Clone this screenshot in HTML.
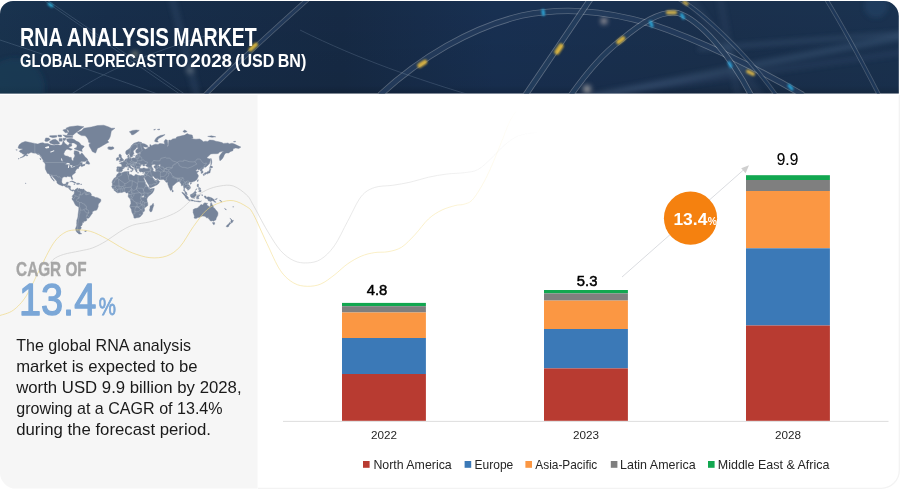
<!DOCTYPE html>
<html lang="en"><head><meta charset="utf-8"><title>RNA Analysis Market</title>
<style>
html,body{margin:0;padding:0;background:#fff;}
body{width:900px;height:490px;overflow:hidden;position:relative;font-family:"Liberation Sans",sans-serif;}
svg{position:absolute;left:0;top:0;display:block}
text{font-family:"Liberation Sans",sans-serif;}
</style></head><body>
<svg width="900" height="490" viewBox="0 0 900 490">
<defs>
<linearGradient id="bg" x1="0" y1="0" x2="1" y2="0">
<stop offset="0" stop-color="#19334f"/><stop offset="0.12" stop-color="#172e4b"/><stop offset="0.38" stop-color="#162a45"/><stop offset="0.55" stop-color="#183052"/><stop offset="0.8" stop-color="#1a304d"/><stop offset="1" stop-color="#1a3250"/>
</linearGradient>
<linearGradient id="bgv" x1="0" y1="0" x2="0" y2="1">
<stop offset="0" stop-color="#000" stop-opacity="0"/><stop offset="0.9" stop-color="#000" stop-opacity="0.06"/><stop offset="1" stop-color="#000" stop-opacity="0.22"/>
</linearGradient>
<clipPath id="bclip"><path d="M0 93.4V14A13 13 0 0 1 13 1H883.8A15 15 0 0 1 898.8 16V93.4Z"/></clipPath>
<linearGradient id="fadeY" x1="0" y1="0" x2="1" y2="0" gradientUnits="userSpaceOnUse" ><stop offset="0" stop-color="#f3d56a"/></linearGradient>
<filter id="blur3" x="-20%" y="-50%" width="140%" height="200%"><feGaussianBlur stdDeviation="2.5"/></filter><filter id="blur05" x="-5%" y="-20%" width="110%" height="140%"><feGaussianBlur stdDeviation="0.45"/></filter><filter id="blur1" x="-100%" y="-100%" width="300%" height="300%"><feGaussianBlur stdDeviation="1.1"/></filter>
<linearGradient id="gfade" gradientUnits="userSpaceOnUse" x1="0" y1="0" x2="540" y2="0"><stop offset="0.074" stop-color="#cfcfcf" stop-opacity="0"/><stop offset="0.1" stop-color="#cfcfcf" stop-opacity="0.9"/><stop offset="0.47" stop-color="#cfcfcf" stop-opacity="0.9"/><stop offset="0.5" stop-color="#d4d4d4" stop-opacity="0.75"/><stop offset="0.8" stop-color="#d8d8d8" stop-opacity="0.6"/><stop offset="1" stop-color="#dddddd" stop-opacity="0"/></linearGradient>
<linearGradient id="yfade" gradientUnits="userSpaceOnUse" x1="0" y1="0" x2="520" y2="0"><stop offset="0" stop-color="#efd67a" stop-opacity="0.8"/><stop offset="0.49" stop-color="#efd67a" stop-opacity="0.8"/><stop offset="0.52" stop-color="#f3d978" stop-opacity="0.6"/><stop offset="0.85" stop-color="#f5dc80" stop-opacity="0.5"/><stop offset="1" stop-color="#f5dc80" stop-opacity="0"/></linearGradient>
</defs>
<!-- banner -->
<g clip-path="url(#bclip)">
<rect x="0" y="0" width="900" height="95" fill="url(#bg)"/>
<rect x="0" y="0" width="900" height="95" fill="url(#bgv)"/>
<g fill="none" filter="url(#blur3)" stroke-linecap="round">
<path d="M595 96L905 36" stroke="#6f8fb4" stroke-width="7" opacity="0.20"/>
<path d="M560 100L905 52" stroke="#5f7fa6" stroke-width="6" opacity="0.12"/>
<path d="M700 49L905 33" stroke="#7f9fc4" stroke-width="5" opacity="0.14"/>
<path d="M172 -2L197 96" stroke="#7f9fc4" stroke-width="7" opacity="0.12"/>
<path d="M690 -2L760 96" stroke="#6f8fb4" stroke-width="8" opacity="0.09"/>
<path d="M720 -2L738 96" stroke="#6f8fb4" stroke-width="7" opacity="0.09"/>
<circle cx="604" cy="21" r="3" fill="#f3ddd0" opacity="0.7"/>
<circle cx="587" cy="89" r="4" fill="#f3e6d8" opacity="0.55"/>
<circle cx="135" cy="54" r="3" fill="#e8d8a0" opacity="0.5"/>
<circle cx="190" cy="70" r="4" fill="#d8d8d0" opacity="0.25"/>
<circle cx="876" cy="6" r="12" fill="#2a5f86" opacity="0.25"/>
<circle cx="15" cy="88" r="30" fill="#1f4a64" opacity="0.35"/>
</g>
<g fill="none" filter="url(#blur05)">
<path d="M380 95C420 58 470 28 522 15.5C560 8 600 9 651 24C700 40 760 70 803 95" stroke="#fff" stroke-opacity="0.28" stroke-width="6.3"/><path d="M380 95C420 58 470 28 522 15.5C560 8 600 9 651 24C700 40 760 70 803 95" stroke="#1a3354" stroke-opacity="0.86" stroke-width="4.699999999999999"/>
<path d="M525.5 95L590.5 -1" stroke="#fff" stroke-opacity="0.3" stroke-width="6.1000000000000005"/><path d="M525.5 95L590.5 -1" stroke="#1a3354" stroke-opacity="0.86" stroke-width="4.5"/>
<path d="M571 95C590 68 605 52 621 40C640 24 660 10 678 13C700 20 730 55 751 95" stroke="#fff" stroke-opacity="0.3" stroke-width="5.9"/><path d="M571 95C590 68 605 52 621 40C640 24 660 10 678 13C700 20 730 55 751 95" stroke="#1a3354" stroke-opacity="0.86" stroke-width="4.3"/>
<path d="M826 -1C845 30 862 62 879 95" stroke="#fff" stroke-opacity="0.21" stroke-width="4.3"/><path d="M826 -1C845 30 862 62 879 95" stroke="#1a3354" stroke-opacity="0.86" stroke-width="2.7"/>
<path d="M205 95C230 70 262 40 308 -1" stroke="#fff" stroke-opacity="0.26" stroke-width="4.7"/><path d="M205 95C230 70 262 40 308 -1" stroke="#1a3354" stroke-opacity="0.86" stroke-width="3.1"/>
<path d="M679 -1C700 10 748 55 776 95" stroke="#fff" stroke-opacity="0.2" stroke-width="4.3"/><path d="M679 -1C700 10 748 55 776 95" stroke="#1a3354" stroke-opacity="0.86" stroke-width="2.7"/>
<g stroke="#9fb4cc" stroke-width="0.7" opacity="0.3">
<path d="M42 -1L181 95"/>
<path d="M45.5 -1L186 95"/>
<path d="M70 95C100 75 130 58 225 30"/>
<path d="M0 40C60 60 120 80 160 95"/>
<path d="M300 30C360 60 420 80 470 95"/>
</g>
</g>
<g filter="url(#blur1)" fill="none" stroke-linecap="round" opacity="0.9">
<path d="M250.5 49.5L256 44.5" stroke="#e9c138" stroke-width="4"/>
<path d="M419.5 65.5L425 62" stroke="#e8bc40" stroke-width="4.6"/>
<path d="M557 52L561 46" stroke="#e8be3c" stroke-width="5"/>
<path d="M618.5 42L623 38.5" stroke="#e8be3c" stroke-width="4.6"/>
<path d="M668 12.5L675 12.5" stroke="#dcb84a" stroke-width="4.2"/>
<path d="M748 71.5L753 74" stroke="#dcb84a" stroke-width="4"/>
<path d="M684 2L687 4" stroke="#dcb84a" stroke-width="3.2"/>
<path d="M49 4L52 6" stroke="#2fb4e0" stroke-width="3"/>
<path d="M543 10.5L543.5 14.5" stroke="#2fb4e8" stroke-width="3"/>
<path d="M650.5 22L652 26" stroke="#2fb4e8" stroke-width="3"/>
<path d="M681.5 14.5L683.5 18" stroke="#2fb4e8" stroke-width="3"/>
<path d="M729 62.500L731 66.5" stroke="#2fa8e0" stroke-width="3"/>
<path d="M789 85.500L792 89" stroke="#2fb4e8" stroke-width="3"/>
</g>
</g>
</g>
<!-- panels -->
<path d="M0 95H257.6V488.6H16A16 16 0 0 1 0 472.6Z" fill="#f6f6f6"/>
<path d="M258 488.3H881.3A18 18 0 0 0 899.3 470.3V95" fill="none" stroke="#f3f3f3" stroke-width="1.3"/>
<!-- map -->
<path d="M18.0 147.6L19.2 144.8L21.7 142.8L25.2 141.4L28.0 142.0L32.3 142.9L34.8 143.4L37.9 144.1L40.4 143.1L42.9 142.7L44.8 143.6L47.9 143.6L51.0 145.1L54.1 145.3L57.2 144.7L60.3 145.3L61.9 144.8L63.4 140.8L65.0 143.4L66.5 144.4L68.1 145.5L69.6 143.4L71.5 143.2L71.8 145.9L69.0 146.9L68.4 148.9L66.2 149.6L64.7 151.4L63.7 154.0L65.0 155.8L67.8 156.2L69.6 157.3L71.3 157.4L71.5 159.2L72.4 160.7L73.4 160.5L73.5 158.4L74.6 156.7L74.9 154.9L74.0 154.0L74.3 150.8L76.8 150.9L79.0 152.1L79.3 154.0L80.2 154.6L81.8 152.8L83.9 155.3L85.2 157.1L87.0 158.6L87.9 160.1L86.1 160.7L85.2 161.6L82.7 161.5L81.1 161.6L79.6 162.9L80.8 162.4L82.5 162.7L82.1 163.7L82.4 164.7L84.6 164.1L85.2 164.9L84.6 165.4L82.7 166.2L81.6 166.8L81.4 166.0L80.8 165.7L79.0 166.7L78.5 167.9L79.0 168.2L77.7 168.5L76.5 169.0L76.3 169.8L75.5 170.9L75.2 171.6L75.4 172.8L74.3 173.6L73.4 174.2L72.1 175.3L71.9 176.5L72.7 178.5L72.6 179.6L71.7 179.2L71.1 178.0L71.0 177.0L70.3 176.5L69.3 176.7L67.8 176.3L66.8 176.4L67.0 177.1L65.9 177.0L64.0 176.7L62.2 178.0L62.0 179.2L61.7 181.5L62.0 182.8L62.8 183.7L63.7 184.3L65.3 184.0L66.1 183.4L66.3 182.4L68.4 182.1L68.1 183.4L67.6 184.7L67.3 185.7L69.0 185.7L70.7 186.3L70.4 187.9L70.4 188.8L71.2 189.9L72.1 190.2L72.9 189.8L74.0 189.9L74.4 190.4L74.3 191.0L73.7 190.5L72.6 191.2L71.7 190.7L70.9 190.5L69.6 189.5L69.1 188.8L68.1 187.6L66.8 187.3L65.6 186.9L64.7 186.0L63.7 185.5L62.5 185.9L60.9 185.3L59.4 184.7L57.8 183.7L56.9 182.8L56.9 181.5L55.9 180.3L54.5 178.8L53.8 178.0L52.5 176.6L52.1 175.6L51.1 175.3L51.3 176.5L52.4 178.2L53.5 179.5L54.1 180.5L54.4 181.1L54.0 181.2L52.8 180.0L51.9 178.7L51.0 177.8L50.7 176.6L49.9 175.4L49.6 174.7L48.8 173.7L47.5 173.4L46.6 171.7L46.3 171.0L45.4 169.2L45.2 167.2L45.4 164.7L44.9 163.0L45.9 162.3L43.5 160.9L42.9 159.7L41.6 158.0L40.4 156.2L39.2 154.6L37.6 154.4L35.7 153.2L32.9 153.0L31.1 152.3L29.8 153.0L28.3 153.7L27.3 153.2L26.7 154.6L24.8 156.0L23.0 157.1L20.0 157.9L22.4 156.7L24.2 155.1L24.5 154.2L23.0 154.2L21.7 153.1L20.2 152.3L19.2 151.2L20.2 150.2L22.4 149.4L22.4 148.7L20.5 148.7L18.9 148.4ZM77.1 132.5L81.4 130.8L83.9 128.2L91.4 127.0L97.6 125.5L103.8 125.2L108.8 127.0L111.3 128.2L115.0 128.2L111.3 131.1L110.7 134.5L110.1 137.0L108.8 139.5L107.6 140.6L108.8 142.3L106.3 143.5L103.8 144.9L102.0 146.1L99.5 147.5L97.6 148.2L96.7 150.2L95.8 152.8L95.1 153.1L93.9 152.3L92.3 151.6L91.1 149.2L90.2 147.7L89.2 146.1L89.2 144.0L90.8 142.9L88.6 142.3L88.3 140.1L87.0 137.7L85.2 135.8L81.4 135.6L79.6 134.5L78.3 133.8ZM74.4 190.4L75.2 189.8L75.7 189.0L76.5 188.7L77.7 188.1L78.0 187.9L78.0 188.8L78.0 189.5L79.0 188.5L79.0 188.1L79.9 189.0L81.4 189.1L82.4 189.3L83.9 189.0L84.1 189.6L84.9 190.4L86.1 191.3L87.0 192.0L88.9 192.1L90.2 192.7L90.8 193.2L91.4 194.6L91.1 195.7L92.3 196.0L92.6 196.3L94.5 196.8L95.1 197.4L96.7 197.5L98.2 197.9L99.5 198.7L100.6 199.1L100.9 200.4L100.6 201.6L99.5 202.9L98.6 203.8L98.2 205.1L98.2 206.7L97.6 208.3L97.0 209.6L96.4 210.3L94.8 210.5L93.6 211.0L92.3 212.1L92.3 213.6L91.4 214.6L90.2 216.3L89.2 217.7L88.3 218.3L87.5 218.3L86.2 217.7L86.9 219.1L86.7 220.5L85.2 221.2L83.8 221.3L83.7 222.6L82.1 222.7L82.4 223.8L81.9 225.4L80.5 226.5L81.4 227.7L80.5 229.3L79.6 230.5L80.0 231.7L79.9 232.6L81.4 233.7L81.9 233.5L80.2 234.1L79.0 234.0L77.7 233.0L76.5 231.7L75.7 230.1L75.5 228.5L76.2 226.9L76.8 225.0L76.6 223.5L76.8 222.0L76.8 220.2L77.4 218.7L77.9 217.0L78.0 214.9L78.3 212.9L78.6 210.9L78.8 209.0L78.8 207.3L77.7 206.4L75.8 205.4L75.0 204.3L74.5 203.2L73.7 201.6L72.9 200.2L72.0 199.4L71.9 198.5L72.7 197.8L72.7 197.1L72.1 196.3L72.6 195.7L72.7 195.2L73.5 194.8L73.7 194.1L74.4 193.3L74.3 192.3L74.3 191.3L74.0 191.2ZM118.8 172.4L121.3 172.9L122.5 172.4L124.4 171.7L126.9 171.6L128.7 171.4L129.3 171.6L128.9 172.3L129.2 173.4L128.7 173.7L129.3 174.3L130.6 174.5L132.0 174.9L132.5 175.6L133.7 176.1L134.9 175.8L134.9 174.8L136.2 174.5L138.1 175.3L140.5 175.8L141.8 175.4L142.6 175.6L142.7 176.5L143.3 177.8L144.3 179.8L144.7 181.1L145.5 182.4L145.7 183.7L146.4 184.7L147.1 186.0L148.0 186.9L149.2 187.9L149.4 188.5L150.5 189.1L151.7 188.7L153.0 188.6L154.3 188.3L154.2 189.1L153.9 190.4L153.0 192.0L152.4 192.9L151.1 194.3L149.9 195.1L148.6 196.3L147.7 197.3L147.1 198.5L146.8 199.7L147.1 200.7L147.2 201.9L147.7 202.6L147.8 204.5L147.6 205.7L146.1 206.7L145.2 207.5L144.3 208.3L144.6 210.3L144.4 211.2L143.0 211.9L142.9 212.9L142.7 214.0L141.8 214.9L140.8 216.2L139.9 217.0L138.7 217.6L136.8 217.7L134.9 218.3L133.9 217.8L133.8 216.6L133.4 215.3L132.8 214.0L132.0 212.6L131.5 210.6L131.4 209.6L130.6 208.0L129.8 206.7L130.0 205.4L130.9 203.5L130.8 201.6L130.3 199.7L130.0 198.8L129.3 198.1L128.4 196.9L128.1 196.1L128.4 195.1L128.5 193.8L128.4 193.2L127.8 192.8L126.9 193.0L126.2 193.0L125.3 191.8L124.4 191.7L123.2 192.0L121.9 192.5L120.9 192.6L120.0 192.5L117.8 193.0L116.9 192.6L115.7 191.5L114.7 191.0L114.2 190.4L114.1 189.6L113.2 188.8L112.1 187.9L112.1 187.3L111.6 186.5L112.2 185.7L112.4 184.4L112.4 183.4L111.9 182.4L112.5 180.8L113.5 179.2L114.4 178.0L115.7 177.3L116.3 176.6L116.5 175.4L117.2 174.2L118.3 173.6ZM153.2 203.2L153.8 205.4L153.3 206.7L152.7 208.6L152.0 210.9L151.7 211.6L150.5 211.9L149.9 211.2L149.4 209.9L149.9 208.6L150.1 207.0L150.2 205.9L151.4 205.5L152.4 204.3ZM119.0 161.7L120.3 161.5L121.9 161.1L123.4 160.7L123.6 159.5L122.7 159.2L122.4 158.4L121.6 157.5L121.3 156.7L121.3 155.3L120.3 155.1L120.6 154.3L119.4 154.3L118.9 155.3L119.1 156.7L119.5 157.1L119.4 157.7L120.3 157.7L120.6 158.6L120.6 159.0L119.7 159.0L119.9 159.8L119.3 160.2L120.3 160.5L120.6 160.7L119.7 160.9ZM118.8 159.9L118.8 158.8L119.1 158.0L118.6 157.4L117.8 157.3L117.2 158.0L116.3 158.2L116.6 159.0L116.3 160.1L116.6 160.5L117.5 160.2ZM107.6 147.7L108.8 146.8L111.3 147.0L112.5 146.7L113.5 147.2L114.1 148.2L113.2 148.9L111.0 149.8L109.4 149.4L108.4 149.3L108.8 148.7L107.6 148.3L108.5 147.9ZM203.9 173.7L204.9 172.7L206.8 172.6L207.7 171.4L208.6 171.4L209.6 169.8L209.6 168.7L210.5 168.5L210.8 169.8L210.2 170.9L210.2 171.9L209.9 172.9L209.3 173.0L208.6 173.2L207.7 173.3L207.4 174.1L207.0 174.1L206.5 173.4L205.2 173.5L204.0 173.8ZM203.4 174.1L204.4 174.1L204.3 175.4L203.5 175.6L203.2 174.5ZM204.9 173.7L206.2 173.6L205.8 174.3L205.0 174.5ZM209.6 168.3L209.8 167.0L210.6 165.4L211.8 166.3L212.9 167.0L211.8 167.9L210.5 167.6ZM210.8 158.1L211.6 160.1L211.8 162.1L211.4 164.5L210.8 164.9L210.9 163.3L210.8 161.3L210.7 159.7ZM197.8 179.7L198.4 179.8L197.8 181.8L197.1 181.1ZM190.1 183.5L190.9 183.1L191.5 183.4L190.9 184.2L190.2 184.1ZM172.3 189.6L173.4 191.0L172.9 192.0L172.3 192.0L172.1 190.7ZM197.5 184.1L198.5 184.2L198.4 185.7L198.1 186.6L199.6 187.6L199.0 187.3L197.8 187.1L197.3 186.4L197.1 185.5ZM198.4 191.3L199.3 190.4L200.6 189.6L201.2 191.0L200.6 192.0L199.6 191.7ZM199.0 188.5L200.2 187.9L200.6 188.8L199.6 189.5L198.7 189.5L198.4 188.5ZM195.4 190.4L196.8 189.1L197.0 188.6L196.4 189.1L195.4 190.1ZM181.8 192.2L183.1 192.5L184.7 194.1L186.9 195.7L188.4 197.6L188.3 199.3L187.5 199.3L185.9 198.2L184.9 196.3L183.8 194.8L182.5 193.4ZM187.9 199.9L188.7 199.4L190.0 199.9L191.5 199.7L192.7 200.1L193.7 200.6L193.6 201.1L191.5 200.9L189.7 200.6L188.7 200.3ZM194.0 200.8L195.3 200.9L196.5 200.9L197.8 200.9L199.0 200.9L199.9 201.5L201.5 200.9L200.2 201.9L199.3 202.1L197.1 201.6L195.3 201.3L194.0 201.2ZM190.3 194.8L190.7 194.5L191.7 194.1L192.8 193.5L193.7 192.7L194.7 191.5L195.3 191.3L196.5 192.4L195.9 193.0L195.8 194.1L196.5 195.1L195.6 196.0L195.0 196.9L194.7 198.2L193.7 198.2L192.8 197.8L191.9 197.8L190.9 196.9L190.4 196.0ZM197.1 195.2L197.8 195.0L199.3 195.1L200.2 194.7L199.9 195.4L198.7 195.4L197.5 195.5L197.3 196.3L198.1 196.3L199.2 196.2L198.9 196.8L198.1 196.9L198.7 197.9L199.0 199.0L198.4 198.8L198.1 197.6L197.6 197.4L197.5 199.1L196.8 199.1L196.7 197.9L196.5 196.9L197.0 195.7ZM201.8 194.5L202.4 194.8L202.4 196.0L201.9 195.4ZM204.0 196.2L205.2 196.0L206.0 196.3L206.5 197.8L208.0 196.8L210.2 197.3L212.4 198.2L213.3 199.1L214.4 199.7L213.9 200.1L214.6 201.0L216.1 202.3L214.6 202.1L213.3 201.0L212.1 200.5L211.4 201.3L210.2 201.4L209.0 200.7L208.3 200.9L208.2 199.7L206.5 198.5L205.2 198.2L204.6 197.4L205.5 197.1L204.6 196.9ZM214.9 199.2L216.1 199.1L217.2 198.3L217.0 199.1L215.8 199.6ZM193.1 209.6L193.4 209.5L195.0 208.6L196.5 208.3L198.1 207.7L198.6 206.7L199.3 206.6L199.9 205.7L200.6 204.8L201.5 204.5L202.4 205.0L203.0 205.0L203.4 203.8L203.9 203.4L204.9 202.8L206.5 203.2L207.6 203.3L207.1 204.1L206.8 205.1L208.0 205.7L209.3 206.7L210.1 206.7L210.5 205.1L210.6 203.5L211.1 202.4L211.8 203.5L211.9 204.7L212.9 205.1L213.3 206.7L213.5 207.7L214.9 208.4L215.5 209.6L216.3 210.6L217.7 211.9L218.0 213.7L217.7 215.6L216.7 217.3L216.1 218.7L215.8 220.0L214.6 220.5L213.5 221.3L212.7 220.7L211.8 221.1L210.2 220.7L209.5 219.8L209.3 219.0L208.5 218.7L208.3 218.0L208.1 217.0L207.7 217.7L207.1 218.3L206.7 218.0L206.0 217.0L204.6 216.3L202.7 216.0L200.9 216.5L199.6 217.3L197.8 217.6L196.1 218.4L194.7 218.3L194.0 217.9L194.4 216.3L194.0 214.9L193.4 213.2L193.0 212.2L193.2 211.2ZM212.5 222.5L214.7 222.6L214.6 224.2L213.6 224.7L212.8 223.6ZM229.9 218.0L231.0 219.1L231.8 219.7L232.6 220.5L233.5 220.3L232.9 221.5L232.3 222.4L231.5 223.2L231.2 222.9L231.3 222.0L230.6 221.5L231.2 220.5L230.9 219.5ZM229.9 222.4L230.9 222.9L230.1 224.2L229.0 225.2L228.7 226.4L227.3 227.0L226.1 226.5L226.7 225.6L227.6 224.8L228.9 223.7L229.5 222.6ZM82.3 151.6L80.2 150.9L77.7 150.2L74.0 148.7L76.8 147.2L77.1 145.1L74.0 142.9L71.5 142.9L69.6 142.9L67.1 141.2L66.5 138.9L69.6 138.5L72.1 138.6L74.6 139.7L76.2 141.0L79.0 142.3L80.5 144.0L81.1 145.1L83.9 146.1L84.2 146.7L82.7 148.2L81.8 149.7ZM49.7 141.4L52.8 139.7L55.3 139.2L57.2 140.6L59.7 142.9L59.1 144.0L56.6 144.0L54.1 144.4L51.6 143.8L49.7 142.9ZM44.8 140.6L45.7 137.9L48.5 138.0L50.3 139.5L47.9 141.2L45.7 141.6ZM67.1 135.1L72.7 135.4L75.2 133.2L79.0 130.4L83.9 126.7L77.7 125.8L69.6 126.7L65.9 128.2L69.0 131.1ZM62.8 130.0L65.3 132.8L68.1 132.5L66.5 129.0ZM62.8 134.9L65.9 137.4L72.7 137.4L72.7 136.2L67.1 135.5ZM49.7 135.8L56.6 135.4L56.9 137.0L52.8 137.7L49.7 136.7ZM59.1 138.6L62.2 138.5L62.2 141.2L59.1 141.2ZM63.1 138.3L66.2 138.3L65.0 140.6L63.1 140.3ZM57.8 135.1L61.5 135.0L61.5 137.0L58.4 136.7ZM68.4 147.4L72.4 149.2L70.9 150.2L68.4 149.5ZM85.6 163.6L86.7 161.1L87.9 160.5L89.5 162.9L89.7 164.1L88.9 164.3L87.7 164.0ZM42.7 161.1L44.8 161.7L45.7 163.0L44.4 162.7ZM39.8 158.4L40.6 158.4L41.0 159.9L40.3 159.4ZM69.6 181.9L71.2 181.1L72.7 181.1L74.6 182.1L76.3 183.0L74.3 183.2L74.0 182.6L72.7 182.0L71.5 181.6ZM76.2 184.1L77.1 183.2L79.0 183.2L80.0 184.0L78.6 184.3L77.9 184.6ZM73.8 184.1L75.0 184.3L74.6 184.5L73.8 184.3ZM80.7 184.1L81.7 184.1L81.6 184.4L80.7 184.4ZM129.3 131.8L132.5 130.4L136.2 130.0L139.3 130.4L136.2 132.8L133.7 134.5L131.8 134.9L130.9 133.2ZM154.5 141.2L155.5 138.9L157.3 137.0L160.4 135.5L165.1 134.6L162.9 136.2L158.6 138.5L157.3 140.6L158.3 142.1L156.1 142.0ZM182.8 131.5L184.7 130.1L187.2 131.5L184.7 132.6ZM207.7 136.4L211.4 135.8L215.8 136.8L212.1 137.3ZM153.6 129.8L155.5 129.1L154.8 130.1ZM157.3 129.5L159.8 129.0L159.2 130.0ZM233.5 141.6L235.4 141.2L235.7 141.8L233.8 142.0ZM130.3 170.9L132.1 170.7L132.0 171.8L130.3 171.2ZM127.6 168.7L128.5 168.7L128.5 170.0L127.7 170.1ZM127.8 167.6L128.4 167.2L128.3 168.3L128.0 168.3ZM137.1 172.7L138.9 172.8L138.7 173.0L137.2 172.9ZM142.6 173.0L144.0 172.6L143.6 173.1L142.8 173.3ZM26.4 155.1L27.8 154.9L27.6 155.8L26.4 156.0ZM18.0 158.8L19.2 158.4L18.9 159.0ZM25.5 183.0L26.1 183.2L25.7 183.7L25.5 183.4ZM15.8 149.7L17.4 149.9L16.8 150.2ZM129.3 156.9L130.3 156.7L130.3 157.5L129.5 157.5ZM133.8 155.0L134.3 155.1L134.0 155.8ZM84.6 230.9L86.4 230.7L86.1 231.5L84.9 231.5ZM224.5 208.4L226.1 209.3L226.4 209.8L225.1 209.3ZM232.8 206.7L233.6 206.7L233.5 207.1L232.8 207.1ZM219.5 200.1L220.8 200.7L222.0 201.6L221.7 201.8L220.2 200.9Z" fill="#76849a" stroke="#76849a" stroke-width="0.4" stroke-linejoin="round"/>
<path d="M116.9 171.6L116.6 170.4L117.0 168.3L116.8 167.2L117.5 166.7L119.4 166.8L121.3 166.9L121.8 166.0L121.8 164.9L121.1 164.1L119.7 163.5L119.6 162.9L120.6 162.7L121.6 162.8L121.4 162.0L122.5 162.2L123.4 161.6L124.1 160.9L124.7 160.6L125.3 159.7L125.6 159.0L126.9 158.7L127.8 158.6L127.9 157.5L127.5 156.2L127.8 155.6L129.0 155.1L128.9 156.2L128.7 157.3L129.2 158.4L130.3 158.0L131.2 158.4L132.5 158.0L134.0 157.8L134.6 158.0L135.6 157.3L135.6 155.8L136.5 155.1L137.4 155.6L137.6 154.6L137.1 153.8L138.7 153.4L139.9 153.5L141.2 153.0L139.9 152.6L138.1 152.9L136.5 153.0L135.7 152.1L135.9 150.2L138.1 148.2L138.2 147.7L137.1 147.4L136.2 147.7L135.9 148.7L133.7 150.5L133.2 152.1L134.0 153.0L133.8 153.7L132.8 155.1L132.5 156.5L131.4 157.1L130.6 157.2L130.3 156.4L129.7 154.9L129.3 154.0L129.0 153.5L128.1 154.4L126.9 154.9L125.9 154.0L125.6 152.1L126.2 150.7L127.8 149.7L129.3 148.7L130.6 147.2L131.5 145.6L132.5 144.6L134.0 143.2L136.2 142.6L138.5 141.7L139.9 142.0L141.8 142.6L141.2 143.2L143.0 143.6L144.9 144.0L147.4 145.4L148.0 146.5L146.4 147.2L143.6 146.7L143.0 146.5L144.3 148.7L145.5 149.2L147.4 148.5L147.7 147.2L149.9 146.9L149.9 144.6L151.1 145.1L151.4 146.1L153.0 145.1L155.5 144.2L158.0 144.4L159.8 143.5L162.3 143.7L163.6 144.0L164.8 144.3L164.2 142.3L164.2 141.2L165.4 139.5L167.3 140.1L167.6 141.8L167.9 144.6L167.3 146.7L168.2 146.1L168.8 140.1L171.0 140.3L172.6 138.9L176.0 138.5L176.6 137.0L181.6 135.8L184.7 135.1L187.2 133.6L189.1 134.5L192.2 135.1L193.1 138.3L190.9 138.5L192.8 138.9L195.9 139.2L199.6 138.9L201.5 140.1L203.4 141.8L205.2 141.2L207.7 141.4L209.6 140.1L213.3 140.3L215.8 141.2L218.9 141.8L222.0 142.6L223.3 143.4L226.4 143.2L228.2 142.9L228.9 144.0L232.0 143.2L234.5 144.0L237.6 145.6L240.9 147.1L238.8 148.5L235.7 147.9L233.2 148.7L232.9 150.7L230.7 151.4L228.6 153.0L225.8 153.0L224.2 154.9L223.6 156.7L222.0 159.2L220.8 160.1L220.0 160.9L219.5 159.2L219.3 156.7L220.2 154.9L222.0 152.6L223.9 151.2L222.0 151.6L219.5 152.1L218.3 153.5L216.4 153.7L213.3 153.7L210.8 154.0L208.3 156.2L206.8 157.8L208.0 158.6L209.6 158.8L210.4 159.7L209.9 161.7L209.6 163.3L208.6 164.5L207.1 166.0L205.5 167.2L204.6 167.0L203.8 167.7L203.2 168.7L202.1 169.4L201.8 169.9L202.9 171.2L203.0 172.7L202.4 173.1L201.1 173.4L201.2 171.9L201.3 171.1L200.2 170.9L200.4 169.8L199.8 169.4L198.4 170.1L197.9 170.1L198.4 169.0L197.8 168.8L196.5 170.0L195.7 170.1L196.2 171.0L196.8 171.4L197.8 171.1L198.7 171.4L197.5 172.2L196.7 173.0L197.5 174.1L198.3 175.2L198.4 176.1L198.1 177.1L197.5 178.2L196.8 179.5L195.9 180.2L195.0 181.1L193.5 181.6L192.2 182.0L191.2 182.3L190.9 182.9L190.6 182.1L189.7 182.1L188.9 182.6L188.3 183.7L188.7 184.7L189.9 185.7L190.4 187.3L190.4 188.3L189.4 189.1L188.9 189.8L187.8 190.3L187.7 189.5L186.9 189.1L186.3 188.2L185.3 187.8L185.0 187.3L184.7 187.9L184.3 189.1L184.6 189.9L185.0 191.2L185.6 191.5L186.3 192.0L186.8 192.9L186.9 194.0L187.3 194.8L186.8 194.8L185.6 194.0L185.0 192.9L184.9 191.8L184.4 191.3L183.6 190.7L183.8 189.5L183.9 188.2L183.5 186.9L183.2 185.3L182.2 185.5L181.8 185.8L181.2 185.5L181.3 184.4L180.7 183.2L179.9 182.3L179.6 181.5L178.8 181.5L177.9 181.9L176.6 182.3L176.3 183.1L175.4 183.4L173.7 185.2L172.4 186.0L172.4 187.4L172.1 189.3L171.6 189.9L171.0 190.4L170.7 190.7L170.0 189.6L169.5 188.3L169.0 187.6L168.5 186.0L167.9 184.4L167.8 183.7L167.7 182.4L167.6 182.1L166.7 182.6L165.4 181.6L166.0 181.1L164.9 180.7L164.2 180.0L163.9 179.6L162.3 179.6L160.8 179.7L158.6 179.4L158.0 178.5L157.3 178.5L156.1 178.8L154.8 178.0L154.1 177.1L153.6 176.3L152.9 176.3L152.4 176.8L152.7 177.6L153.6 178.7L153.7 179.5L154.4 179.2L154.5 179.8L154.5 180.3L156.1 180.4L157.3 179.2L157.5 179.0L157.6 180.2L159.0 180.7L159.7 181.5L159.0 182.8L158.4 183.7L156.7 185.0L155.0 185.7L153.0 186.7L150.5 187.7L149.6 187.8L149.1 186.6L148.9 185.3L147.7 183.4L146.8 182.1L146.1 180.5L145.2 179.2L144.3 177.8L144.3 176.8L143.8 178.0L143.0 177.3L142.7 176.5L142.6 175.6L143.8 175.6L144.2 174.5L144.8 173.4L144.9 172.3L145.0 171.9L144.0 171.7L143.0 172.2L141.8 171.7L140.5 172.1L139.6 171.6L139.0 170.5L139.3 169.8L138.8 169.4L140.5 169.0L140.5 168.6L142.1 168.5L143.3 167.9L144.3 167.9L145.5 168.5L147.1 168.7L148.3 168.3L148.3 167.6L147.1 166.7L145.8 165.7L145.5 165.4L146.4 164.9L146.9 164.0L145.8 164.1L144.3 164.7L144.3 165.3L145.2 165.4L144.6 165.7L143.5 166.1L142.8 165.4L143.4 164.8L142.4 164.5L141.6 164.5L141.0 165.5L140.3 166.6L139.9 167.6L140.0 168.3L140.5 168.6L139.3 168.9L138.8 169.2L138.7 168.8L137.4 168.8L137.1 169.3L136.7 169.0L136.6 169.9L137.4 170.9L137.4 171.1L136.8 171.9L136.5 172.0L136.0 171.7L135.7 170.7L134.9 169.6L134.6 168.7L134.6 168.1L134.0 167.6L132.5 166.8L131.8 166.0L131.2 165.7L131.0 165.1L130.2 165.4L130.2 166.3L131.0 166.8L131.5 167.7L132.5 168.1L134.0 169.3L133.1 169.0L132.8 169.6L133.2 170.1L132.8 170.7L132.3 170.9L132.5 170.1L132.0 169.3L131.4 168.8L130.2 168.2L129.0 167.3L128.7 166.4L128.0 166.1L127.2 166.6L126.2 167.1L125.0 166.8L124.4 167.2L124.5 167.9L123.7 168.5L122.8 169.0L122.3 169.8L122.6 170.4L122.1 171.2L121.3 171.7L119.7 171.8L119.0 172.3L118.6 171.8L118.0 171.4ZM151.7 165.3L153.0 164.5L154.2 164.3L155.5 164.7L155.2 165.7L154.2 166.0L153.8 167.2L155.2 168.3L155.8 169.4L155.5 170.5L156.1 171.6L154.8 171.8L153.6 171.3L153.0 170.5L153.3 169.2L152.7 168.1L152.0 167.2L151.6 166.0ZM158.9 164.5L160.4 164.5L160.4 166.0L159.2 166.4L158.8 165.7Z" fill="#76849a" fill-rule="evenodd" stroke="#76849a" stroke-width="0.4" stroke-linejoin="round"/>
<path d="M65.3 164.3L67.8 162.8L69.8 163.6L69.9 164.5L68.4 164.6ZM67.9 167.9L68.8 167.9L69.5 165.2L68.2 165.2ZM70.1 164.9L72.6 165.4L71.7 167.0L70.7 166.6ZM70.7 167.9L73.4 167.3L73.2 167.1L70.9 167.6ZM72.9 167.0L75.0 166.7L74.9 166.3L73.1 166.6ZM44.8 147.2L48.8 146.1L49.2 148.0L46.0 148.4ZM49.7 152.1L53.8 150.3L54.5 151.0L51.0 152.5ZM60.9 158.6L62.0 158.4L62.5 161.3L61.7 161.1ZM142.4 195.9L143.6 195.5L143.8 197.3L142.4 197.4Z" fill="#f6f6f6"/>
<path d="M45.9 162.5L63.3 162.5L66.8 163.3L69.9 164.5L71.2 165.4L71.2 167.3L73.4 167.0L74.9 166.4L76.0 165.7L78.0 165.7L79.5 163.8L80.3 164.1L80.5 165.4L80.8 165.7M34.8 143.4L34.8 152.8L37.0 154.1L38.5 153.5L41.6 156.7L41.6 157.8M49.7 174.8L51.1 174.8L53.5 175.6L55.2 175.5L56.3 175.2L57.5 176.7L58.4 177.1L59.4 176.6L60.6 178.2L62.0 179.2M65.2 186.6L65.6 184.9L67.0 184.5L67.6 184.1M67.0 184.5L67.0 186.3L67.8 185.9M67.0 186.3L68.0 187.4M68.1 187.6L69.6 187.3L70.7 186.3M69.2 188.8L70.4 188.9M70.9 190.5L71.1 189.8M90.4 193.2L88.9 194.3L87.4 194.5L85.9 195.0L85.2 192.5L84.6 192.9L82.7 193.2L82.7 194.5L81.0 195.0L79.0 194.6L79.3 196.3L79.0 198.4L77.1 198.8L76.5 200.4L77.6 201.9L78.6 201.6L79.3 202.6L81.9 202.6L82.1 203.4L84.9 204.3L85.2 205.9L86.3 205.9L86.5 207.0L86.4 208.3L86.5 209.7L87.9 209.8L88.7 210.9L88.5 212.0L89.1 213.0L87.9 213.8L86.7 215.1L87.7 215.5L89.2 217.5M80.3 210.1L79.9 211.2L80.0 212.9L79.1 215.1L79.0 217.2L78.3 219.5L78.3 221.3L77.9 223.5L77.9 225.7L77.4 228.9L77.7 231.3L80.0 231.7M79.3 202.6L79.6 205.4L79.3 206.7L80.2 208.0L80.3 210.1L82.5 210.1L83.6 209.7L86.3 208.4M83.6 209.7L86.4 212.9L87.9 213.2L88.5 212.0M86.7 215.1L86.2 217.3M72.6 197.8L73.7 198.7L75.7 195.8L79.0 197.3L79.0 198.4M73.5 194.8L75.7 195.8M78.2 188.3L77.4 190.1L77.7 191.3L80.5 191.8L80.3 194.0L81.0 195.0M79.3 206.7L78.8 207.3M85.2 192.5L84.7 191.0L85.2 190.4M85.9 195.0L86.9 192.1M87.4 194.5L88.9 192.1M121.4 166.9L124.5 167.6M117.0 168.0L118.5 168.1L118.1 170.1L117.9 171.4M124.1 160.9L126.2 162.1L127.6 162.5L127.2 163.7L126.2 164.7L126.9 165.0L126.9 166.3L127.2 166.6M131.3 158.4L131.7 160.9L130.1 161.5L131.1 162.8L130.6 163.7L128.5 163.7L127.2 163.7M126.2 162.1L126.2 160.9L126.9 159.0M127.8 157.6L128.6 157.7M131.1 162.8L133.1 162.7L136.5 162.4L136.3 163.0L134.3 163.5L132.8 163.6L132.6 164.3L131.0 164.5L130.1 164.1L129.0 164.2L128.5 163.7M126.2 164.7L127.8 164.9L129.0 164.2M131.0 164.5L131.0 165.1M131.7 160.9L134.3 162.1L136.6 162.5M134.6 158.0L136.8 158.1L137.4 160.9L136.6 162.5L136.3 163.0M132.6 164.3L134.2 165.0L135.1 164.7L136.3 163.0M135.1 164.7L136.5 166.0L136.6 166.6L136.4 167.7L135.3 168.7L134.6 168.0M136.3 163.0L137.7 163.3L139.1 163.1L140.0 165.3L141.0 165.5M136.6 166.6L138.4 166.7L140.3 166.6M136.4 167.7L136.7 168.5L138.9 168.2L139.9 167.9M134.9 169.6L135.6 168.8L136.7 168.5M138.9 168.2L138.7 168.9M131.0 165.1L132.0 165.3L132.8 164.6L134.2 165.0M132.3 165.5L134.3 165.7L134.5 167.0L134.0 167.6M139.9 153.5L139.7 155.3L140.0 156.7L141.8 157.5L141.8 160.1L143.6 159.8L144.9 161.5L147.4 162.0L147.2 163.5L146.3 164.0M137.4 160.9L141.5 160.6L141.8 160.1M136.8 158.1L138.5 158.5L139.0 156.9L140.0 156.7M135.6 156.6L139.0 156.9M137.6 155.0L139.5 155.3M139.1 163.1L141.2 164.6L141.6 164.5M139.9 152.6L142.1 150.4L141.2 147.5L140.5 144.0L140.5 143.2M129.7 154.0L130.2 151.6L130.1 149.2L131.5 147.0L132.8 145.1L135.3 144.0L137.7 144.3L138.7 143.0L140.5 143.2M137.5 147.4L137.2 145.3L135.3 144.0M118.0 157.5L118.6 158.3M153.0 164.5L151.7 163.3L153.6 160.5L156.7 160.9L159.8 160.9L160.8 158.4L165.4 157.3L166.7 158.2L169.8 158.1L172.3 160.9L175.4 161.7L176.8 162.4L175.7 164.1L174.1 164.0L173.7 165.3L172.4 165.7L172.4 167.2L172.4 167.8L169.2 167.3L166.7 167.6L165.4 168.5L163.9 168.7L163.6 167.2L160.4 166.8L158.9 165.3L157.3 165.7L157.3 168.5L155.8 167.9M177.1 162.4L179.7 161.1L183.5 161.3L183.8 160.1L185.9 160.5L189.1 161.7L192.8 161.9L195.0 161.8L196.8 164.1L194.3 165.3L192.0 166.7L187.8 168.2L184.7 167.4L182.2 167.3L179.1 165.5L178.8 163.7L177.1 162.4M195.0 161.8L197.1 159.0L200.2 159.1L201.8 161.7L204.0 163.6L206.5 163.0L205.2 165.7L204.0 165.8L204.0 167.5L203.7 167.6M172.4 167.8L168.4 169.8L169.2 171.6L171.3 173.4L171.6 174.8L172.9 176.3L175.4 177.6L177.7 178.2L179.7 178.0L183.0 177.7L183.9 179.8L183.2 180.5L184.4 181.8L185.8 182.3L186.3 181.5L188.0 180.9L189.7 182.1M172.9 176.3L172.4 177.3L174.7 178.2L177.2 178.8L177.7 178.2M177.7 178.2L178.4 178.7L179.7 178.6L179.7 178.0M177.9 181.9L177.4 180.2L177.5 179.0L178.4 179.2L179.9 179.8L179.9 182.3M179.9 179.8L181.4 179.5L183.0 177.7M179.9 182.3L181.0 180.6L181.4 179.5M164.9 180.7L166.7 180.2L166.0 177.8L167.9 176.5L168.8 174.8L168.5 173.2L170.4 172.7L171.3 173.4M160.8 179.7L160.4 176.6L163.7 176.6L165.6 175.2L166.7 173.7L167.0 171.9L168.8 171.6M160.4 176.6L160.3 173.7L160.6 171.9L158.0 170.7L156.1 171.3M160.6 171.9L162.6 171.9L163.9 171.3L167.0 171.9M163.9 168.7L163.9 171.3M157.3 168.5L158.9 167.4L160.4 168.5L161.4 169.4L163.9 171.3M165.4 168.5L166.4 169.3L168.4 169.8M163.9 171.3L164.8 169.4L165.4 168.5M166.7 167.6L166.4 169.3M152.7 176.5L151.1 174.4L150.8 172.4L150.2 171.0L150.2 169.6L152.4 169.8L152.9 170.6M148.3 168.3L149.6 168.6L150.4 169.6L150.2 171.4L148.8 171.4L145.3 171.8L144.9 172.3M149.6 168.6L151.4 168.1L152.7 168.1M147.3 166.9L149.9 167.5L151.4 168.1M150.4 169.6L151.4 170.2M144.3 176.8L145.5 176.9L146.8 175.1L148.6 175.6L150.3 177.0L151.4 177.1L152.2 177.5L152.7 177.5M146.8 175.1L146.6 174.1L148.0 173.4L148.8 171.4M144.8 173.4L145.3 173.6L144.8 174.2L144.6 174.8L144.3 176.8M146.6 174.1L144.8 174.2M154.5 180.3L154.8 181.1L156.8 181.3L157.1 183.1L154.8 183.7L153.0 184.0L151.7 185.0L149.4 184.8L149.1 185.4M156.8 181.3L157.3 180.4M154.8 183.7L155.5 185.3M183.5 186.9L184.1 185.7L183.3 184.1L184.1 183.0L184.8 182.9L185.4 183.4L185.3 184.7L186.1 184.4L187.2 184.2L187.7 185.3L188.2 186.6L186.5 186.8L186.2 187.3L186.5 188.4M184.8 182.9L185.8 182.3M187.2 184.2L187.9 183.9L187.2 182.8L186.3 181.5M188.2 186.6L189.4 186.5L189.4 188.0L188.4 188.8L188.6 189.0L187.4 189.2M189.4 186.5L189.4 185.5L187.9 183.9M184.9 191.7L185.4 192.2L186.0 191.8M199.8 169.4L201.4 168.1L202.3 168.2L203.2 167.6L203.7 167.6M200.9 171.1L202.4 170.4M190.7 194.5L191.2 195.1L193.7 194.8L194.3 193.0L195.6 193.1M210.2 197.3L210.2 201.4M138.1 175.3L138.1 181.8L145.4 181.8M138.1 181.8L137.4 183.4L132.5 180.8L130.0 180.8L128.7 179.2L128.4 176.5L128.9 175.4L129.7 174.3M128.4 176.5L127.7 174.8L127.2 173.8L127.6 171.9L127.8 171.7M121.3 172.9L121.8 175.0L120.2 175.8L117.1 177.4L117.1 178.3L114.4 178.0M117.1 178.3L119.5 179.8L123.1 182.4L124.6 183.7L126.2 183.4L130.0 180.8M117.1 178.3L117.1 179.2L115.0 179.2L115.0 180.9L114.4 181.1L114.4 182.3L111.9 182.3M119.5 179.8L118.5 179.8L119.0 185.3L119.1 186.0L115.3 186.1L113.5 185.3L112.2 185.7M124.6 183.7L125.1 185.7L122.6 186.3L121.3 186.8L119.1 186.0M132.5 180.8L132.1 183.1L132.1 185.2L130.9 187.1L131.5 188.5L131.8 189.5L133.7 190.7L136.5 188.8L137.4 185.9L137.4 183.4M124.8 188.3L125.0 187.3L126.9 187.6L130.9 187.1M122.6 186.3L123.9 188.0L124.8 188.3L124.2 190.1L124.2 191.7M121.3 186.8L120.8 188.8L119.1 189.2L119.1 186.0M123.9 188.0L123.1 188.8L120.8 188.8M120.8 188.8L120.8 190.8L120.5 192.5M123.1 188.8L122.5 190.4L123.2 191.9M119.1 189.2L117.5 189.3L117.4 190.4L117.8 193.0M117.4 190.4L116.1 190.4L115.3 191.4M116.1 190.4L115.7 189.5L114.2 190.0M115.3 186.1L115.4 187.9L117.5 189.3M115.4 187.9L114.0 187.8L112.1 187.9M114.0 187.8L114.0 188.4L113.2 188.8M127.8 192.8L128.6 191.5L129.7 191.6L130.7 189.5L131.5 188.5M131.8 189.5L131.1 190.7L132.0 191.0L131.5 192.6L132.5 194.3L130.8 194.3L128.6 194.3M131.5 192.6L134.1 193.5M129.5 197.1L131.5 196.9L130.8 194.3M128.6 195.1L129.5 195.1L129.5 194.3M145.4 181.8L145.5 184.4L145.2 186.6L143.6 189.1L143.5 190.5L144.3 192.3L143.6 193.1L144.9 193.0L148.0 193.2L148.0 196.8M145.2 186.6L146.1 186.5L147.7 186.8L148.9 187.9L149.2 187.9M148.9 187.9L148.5 188.8L149.2 188.5M149.2 188.5L149.1 189.5L150.5 190.2L152.4 190.7L150.5 192.6L148.0 193.2M152.4 190.7L153.0 188.6M136.5 188.8L137.1 190.3L139.6 192.6L141.8 193.4L143.6 193.1M137.4 185.9L136.5 188.8M143.5 190.5L142.7 188.2L137.4 188.2M130.1 199.3L132.8 199.3L133.1 200.7L136.2 202.6L137.7 202.9L139.6 203.4L140.8 204.1L140.2 201.3L141.5 200.8L140.7 198.4L140.8 196.6L141.8 194.3L139.6 192.6L136.5 193.1L134.1 193.5L133.7 196.0L132.5 196.9L132.1 198.2L130.6 198.7L130.1 198.8M143.6 193.1L144.3 194.8L143.6 196.3L145.9 197.6L146.9 198.6M140.8 196.6L141.5 196.3L143.6 196.3M141.5 196.3L141.7 197.2L140.7 198.4M147.7 202.3L144.3 202.9L144.0 201.6L143.0 201.6L141.7 200.8M144.3 202.9L144.0 204.8L144.5 206.2L143.0 204.5L141.3 205.1L143.0 201.6M141.3 205.1L139.3 207.0L138.2 206.9L136.8 206.8L133.7 206.6L129.8 206.6M136.2 202.6L136.2 203.8L137.4 203.8L136.8 206.8M141.3 205.1L143.0 206.2L143.0 208.0L142.0 209.9M139.3 207.0L138.2 207.3L140.8 209.7M144.5 206.2L144.1 208.2M134.9 209.6L134.9 213.9L132.8 214.0M134.9 209.6L135.6 207.2L138.2 206.9M134.9 211.6L136.8 211.8L138.7 211.4L140.8 209.7L142.0 209.9L142.4 212.2L143.0 212.8M139.3 214.7L140.4 214.0L140.8 214.6L140.0 215.3L139.3 214.7" fill="none" stroke="#eef1f5" stroke-width="0.4" stroke-opacity="0.42" stroke-linejoin="round"/>
<!-- decorative curves -->
<path d="M40.0 284.0C41.0 281.7 43.8 274.1 46.0 270.0C48.2 265.9 50.0 262.3 53.0 259.7C56.0 257.1 59.3 255.8 63.7 254.4C68.1 253.0 74.7 252.1 79.6 251.0C84.5 249.9 88.5 249.5 92.9 247.8C97.3 246.1 101.8 243.7 106.2 241.0C110.6 238.3 115.1 234.5 119.5 231.9C123.9 229.3 127.6 226.9 132.7 225.2C137.8 223.5 144.3 223.2 150.0 221.8C155.7 220.4 161.7 218.7 166.7 216.7C171.7 214.7 175.6 213.1 180.0 210.0C184.4 206.9 188.9 201.6 193.3 198.3C197.8 195.0 202.2 192.1 206.7 190.0C211.1 187.9 215.6 186.7 220.0 186.0C224.4 185.3 228.9 184.5 233.3 186.0C237.8 187.5 243.3 191.8 246.7 195.0C250.1 198.2 250.1 199.6 253.5 205.5C256.9 211.4 262.5 222.7 267.0 230.2C271.5 237.7 275.9 245.3 280.4 250.4C284.9 255.5 289.4 258.6 293.9 260.7C298.4 262.8 302.8 263.1 307.3 262.9C311.8 262.7 316.3 262.1 320.8 259.3C325.3 256.5 329.8 252.2 334.3 245.9C338.8 239.6 343.2 229.4 347.7 221.2C352.2 213.0 356.7 202.1 361.2 196.5C365.7 190.9 369.4 189.4 374.6 187.5C379.8 185.6 386.6 186.2 392.6 185.3C398.6 184.4 404.5 183.4 410.5 182.1C416.5 180.8 422.5 178.5 428.5 177.2C434.5 175.9 440.5 174.8 446.5 174.1C452.5 173.3 459.2 173.4 464.4 172.7C469.6 171.9 473.4 172.0 477.9 169.6C482.4 167.2 486.8 162.4 491.3 158.3C495.8 154.2 500.3 148.6 504.8 144.9C509.3 141.2 513.1 138.0 518.3 135.9C523.5 133.8 533.2 132.9 536.2 132.3" fill="none" stroke="url(#gfade)" stroke-width="0.8"/>
<path d="M0.0 315.5C2.2 314.6 8.9 313.5 13.3 310.2C17.7 306.9 22.1 302.5 26.5 295.6C30.9 288.7 35.4 277.6 39.8 269.0C44.2 260.4 49.1 249.8 53.1 243.8C57.1 237.8 60.2 235.5 63.7 233.2C67.2 230.9 69.9 230.3 74.3 230.0C78.7 229.7 85.0 229.9 90.3 231.3C95.6 232.7 101.3 236.0 106.2 238.5C111.1 241.0 115.1 244.1 119.5 246.5C123.9 248.9 127.6 251.1 132.7 253.0C137.8 254.9 144.3 257.2 150.0 257.7C155.7 258.2 161.7 257.8 166.7 256.0C171.7 254.2 175.6 251.6 180.0 246.7C184.4 241.8 188.9 232.8 193.3 226.7C197.8 220.6 202.2 214.0 206.7 210.0C211.1 206.0 215.6 204.2 220.0 202.7C224.4 201.1 228.9 200.0 233.3 200.7C237.8 201.4 243.3 204.4 246.7 206.7C250.1 209.0 250.1 208.3 253.5 214.5C256.9 220.7 262.5 234.3 267.0 243.6C271.5 252.9 275.9 263.9 280.4 270.5C284.9 277.1 289.4 280.5 293.9 283.1C298.4 285.7 302.8 286.2 307.3 286.3C311.8 286.4 316.3 285.9 320.8 284.0C325.3 282.1 329.8 278.4 334.3 275.0C338.8 271.6 343.2 266.9 347.7 263.8C352.2 260.7 356.7 258.1 361.2 256.2C365.7 254.3 370.1 253.3 374.6 252.6C379.1 251.8 383.6 252.6 388.1 251.7C392.6 250.8 397.1 250.0 401.6 247.2C406.1 244.3 410.5 239.3 415.0 234.6C419.5 229.9 424.0 223.0 428.5 218.9C433.0 214.8 437.5 212.2 442.0 210.0C446.5 207.8 451.7 206.5 455.4 205.5C459.1 204.5 461.4 205.2 464.4 204.1C467.4 203.0 469.6 203.3 473.4 198.7C477.1 194.1 482.4 185.3 486.9 176.3C491.4 167.3 496.6 153.9 500.3 144.9C504.0 135.9 506.7 128.0 509.3 122.4C511.9 116.8 514.9 113.1 516.0 111.2" fill="none" stroke="url(#yfade)" stroke-width="0.8"/>
<!-- axis -->
<line x1="283" y1="421.4" x2="888.5" y2="421.4" stroke="#d9d9d9" stroke-width="0.9"/>
<rect x="342" y="302.9" width="83.9" height="3.3" fill="#12a750"/><rect x="342" y="306.2" width="83.9" height="6.3" fill="#7f7f7f"/><rect x="342" y="312.5" width="83.9" height="25.5" fill="#fb9743"/><rect x="342" y="338.0" width="83.9" height="36.0" fill="#3b79b7"/><rect x="342" y="374.0" width="83.9" height="46.8" fill="#b83b31"/>
<rect x="544" y="290.0" width="83.9" height="3.4" fill="#12a750"/><rect x="544" y="293.4" width="83.9" height="7.2" fill="#7f7f7f"/><rect x="544" y="300.6" width="83.9" height="28.4" fill="#fb9743"/><rect x="544" y="329.0" width="83.9" height="39.4" fill="#3b79b7"/><rect x="544" y="368.4" width="83.9" height="52.4" fill="#b83b31"/>
<rect x="746" y="175.2" width="83.9" height="4.8" fill="#12a750"/><rect x="746" y="180.0" width="83.9" height="11.0" fill="#7f7f7f"/><rect x="746" y="191.0" width="83.9" height="57.3" fill="#fb9743"/><rect x="746" y="248.3" width="83.9" height="77.2" fill="#3b79b7"/><rect x="746" y="325.5" width="83.9" height="95.3" fill="#b83b31"/>

<!-- arrow -->
<line x1="622" y1="277" x2="744" y2="169.5" stroke="#d6d8dc" stroke-width="0.9"/>
<path d="M749 165.2L741.2 168.2L745.6 173.2Z" fill="#cfcfcf"/>
<circle cx="690.5" cy="218.2" r="26.6" fill="#f5810f"/>
<!-- text -->
<g fill="#fff" font-weight="bold">
<text x="20.0" y="45.8" font-size="25.2" textLength="42.6" lengthAdjust="spacingAndGlyphs">RNA</text><text x="66.8" y="45.8" font-size="25.2" textLength="102.2" lengthAdjust="spacingAndGlyphs">ANALYSIS</text><text x="173.2" y="45.8" font-size="25.2" textLength="83.5" lengthAdjust="spacingAndGlyphs">MARKET</text>
<text x="20.0" y="66.6" font-size="17.9" textLength="61.8" lengthAdjust="spacingAndGlyphs">GLOBAL</text><text x="84.6" y="66.6" font-size="17.9" textLength="80.5" lengthAdjust="spacingAndGlyphs">FORECAST</text><text x="165.9" y="66.6" font-size="17.9" textLength="22.2" lengthAdjust="spacingAndGlyphs">TO</text><text x="190.2" y="66.6" font-size="17.9" textLength="41.9" lengthAdjust="spacingAndGlyphs">2028</text><text x="235.1" y="66.6" font-size="17.9" textLength="39.2" lengthAdjust="spacingAndGlyphs">(USD</text><text x="277.7" y="66.6" font-size="17.9" textLength="28.6" lengthAdjust="spacingAndGlyphs">BN)</text>
<text x="673.4" y="224.9" font-size="16.4" textLength="34" lengthAdjust="spacingAndGlyphs">13.4</text>
<text x="707.7" y="224.9" font-size="10.6" textLength="9.2" lengthAdjust="spacingAndGlyphs">%</text>
</g>
<text x="16.1" y="276.3" font-size="19.5" font-weight="bold" fill="#a6a6a6" stroke="#a6a6a6" stroke-width="0.35" textLength="70.6" lengthAdjust="spacingAndGlyphs">CAGR OF</text>
<text x="18.9" y="314.6" font-size="44.4" fill="#7ba7d7" textLength="77.4" lengthAdjust="spacingAndGlyphs" stroke="#7ba7d7" stroke-width="1.3" stroke-linejoin="round">13.4</text>
<text x="98.8" y="314.7" font-size="24.6" fill="#7ba7d7" textLength="17.2" lengthAdjust="spacingAndGlyphs" stroke="#7ba7d7" stroke-width="0.8">%</text>
<g fill="#1a1a1a" font-size="15.9">
<text x="16.2" y="351.1" textLength="174.8" lengthAdjust="spacingAndGlyphs">The global RNA analysis</text>
<text x="16.2" y="372" textLength="181.2" lengthAdjust="spacingAndGlyphs">market is expected to be</text>
<text x="16.2" y="392.8" textLength="225.4" lengthAdjust="spacingAndGlyphs">worth USD 9.9 billion by 2028,</text>
<text x="16.2" y="413.7" textLength="206.4" lengthAdjust="spacingAndGlyphs">growing at a CAGR of 13.4%</text>
<text x="16.2" y="434.5" textLength="194.8" lengthAdjust="spacingAndGlyphs">during the forecast period.</text>
</g>
<g fill="#000" font-size="15.3" stroke="#000" stroke-width="0.5" text-anchor="middle">
<text x="377" y="295.3" textLength="20.6" lengthAdjust="spacingAndGlyphs">4.8</text>
<text x="587.1" y="286.2" textLength="20.6" lengthAdjust="spacingAndGlyphs">5.3</text>
<text x="787.5" y="164.7" textLength="21.5" lengthAdjust="spacingAndGlyphs" stroke-width="0.15" font-size="16.8">9.9</text>
</g>
<g fill="#262626" font-size="11.7" text-anchor="middle">
<text x="384" y="439.2">2022</text>
<text x="586" y="439.2">2023</text>
<text x="788" y="439.2">2028</text>
</g>
<g font-size="12.2" fill="#262626">
<rect x="363" y="461" width="6.6" height="6.8" fill="#b83b31"/><text x="373.4" y="468.9" textLength="78.3" lengthAdjust="spacingAndGlyphs">North America</text>
<rect x="464.6" y="461" width="6.6" height="6.8" fill="#3b79b7"/><text x="474.6" y="468.9" textLength="38.7" lengthAdjust="spacingAndGlyphs">Europe</text>
<rect x="525.4" y="461" width="6.6" height="6.8" fill="#fb9743"/><text x="535.3" y="468.9" textLength="62" lengthAdjust="spacingAndGlyphs">Asia-Pacific</text>
<rect x="610.8" y="461" width="6.6" height="6.8" fill="#7f7f7f"/><text x="620" y="468.9" textLength="75.6" lengthAdjust="spacingAndGlyphs">Latin America</text>
<rect x="708" y="461" width="6.6" height="6.8" fill="#12a750"/><text x="717.8" y="468.9" textLength="111.6" lengthAdjust="spacingAndGlyphs">Middle East &amp; Africa</text>
</g>
</svg>
</body></html>
